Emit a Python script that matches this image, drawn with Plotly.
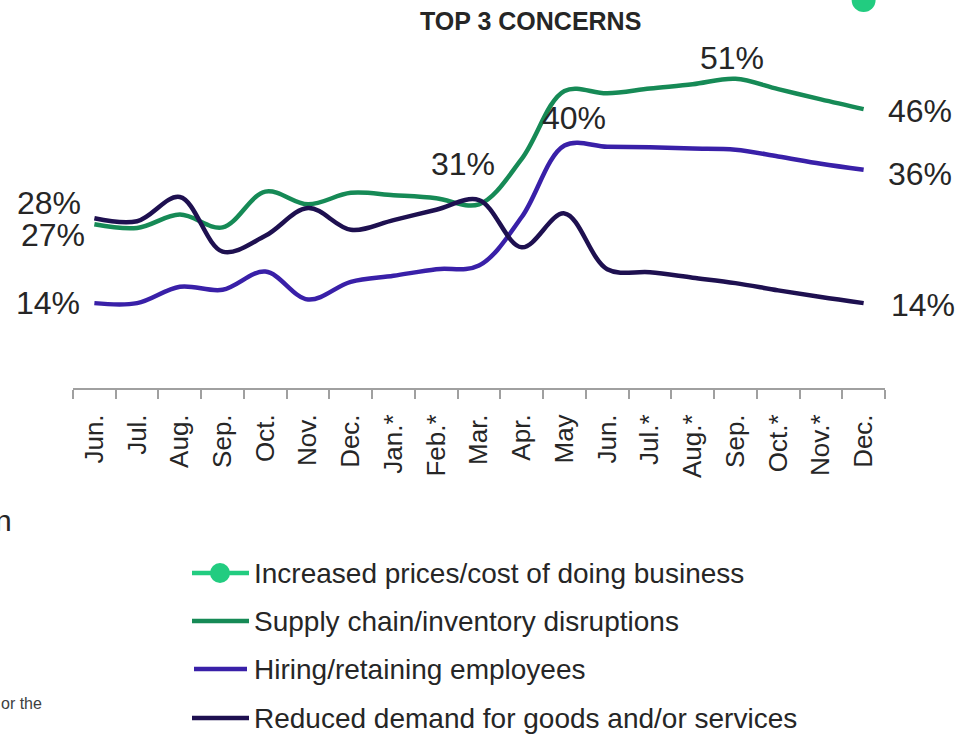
import plotly.graph_objects as go

# ---- data -------------------------------------------------------------
months = ["Jun.", "Jul.", "Aug.", "Sep.", "Oct.", "Nov.", "Dec.", "Jan.*", "Feb.*", "Mar.",
          "Apr.", "May", "Jun.", "Jul.*", "Aug.*", "Sep.", "Oct.*", "Nov.*", "Dec."]

increased_prices = [None, None, None, None, None, None, None, None, None, None,
                    None, None, None, None, None, None, None, None, 64]
supply_chain = [27, 26.4, 28.6, 26.5, 32.4, 30.3, 32.2, 31.8, 31.3, 30.3,
                37.8, 49.0, 48.6, 49.4, 50.1, 51, 49.3, 47.6, 46]
hiring = [14, 14, 16.7, 16.2, 19.2, 14.6, 17.5, 18.5, 19.6, 20.2,
          28.2, 40, 39.8, 39.7, 39.5, 39.3, 38.2, 37.0, 36]
reduced_demand = [28, 27.5, 31.5, 22.5, 25.1, 29.7, 26.1, 27.7, 29.4, 31,
                  23.2, 28.8, 19.6, 19.1, 18.2, 17.3, 16.1, 15.0, 14]

series_names = ["Increased prices/cost of doing business",
                "Supply chain/inventory disruptions",
                "Hiring/retaining employees",
                "Reduced demand for goods and/or services"]
series_colors = ["#22CC80", "#168A56", "#3920A8", "#1E1050"]

# ---- geometry -----------------------------------------------------------
W, H = 974, 734
ML, MR, MT, MB = 73, 89, 0, 346
PW, PH = W - ML - MR, H - MT - MB
Y_TOP = 64
FONT = "Liberation Sans, Arial, sans-serif"
TXT = "#262626"


def px(x):
    return (x - ML) / PW


def py(y):
    return (H - MB - y) / PH


x_idx = list(range(len(months)))

fig = go.Figure()

fig.add_trace(go.Scatter(
    x=x_idx, y=increased_prices, mode="lines+markers", name=series_names[0],
    line=dict(color=series_colors[0], width=4.5),
    marker=dict(color=series_colors[0], size=24), cliponaxis=False,
    showlegend=False))

for name, vals, col in zip(series_names[1:], [supply_chain, hiring, reduced_demand],
                           series_colors[1:]):
    fig.add_trace(go.Scatter(
        x=x_idx, y=vals, mode="lines", name=name,
        line=dict(color=col, width=4.5, shape="spline", smoothing=1.0),
        cliponaxis=False, showlegend=False))

# ---- value labels -------------------------------------------------------
label_specs = [
    (reduced_demand, 0, "right", -11, 15),
    (supply_chain, 0, "right", -7, -11),
    (hiring, 0, "right", -12, 0),
    (supply_chain, 18, "left", 22, -2),
    (hiring, 18, "left", 22, -4),
    (reduced_demand, 18, "left", 25, -2),
    (supply_chain, 15, "center", -3, 21),
    (hiring, 11, "center", 10, 28),
    (reduced_demand, 9, "center", -16, 36),
]
annotations = []
for vals, i, anchor, dx, dy in label_specs:
    annotations.append(dict(
        x=i, y=vals[i], xref="x", yref="y", text=f"{vals[i]:.0f}%",
        showarrow=False, xanchor=anchor, yanchor="middle", xshift=dx, yshift=dy,
        font=dict(family=FONT, size=32, color=TXT)))

# title
annotations.append(dict(
    x=px(530), y=py(21), xref="paper", yref="paper", text="<b>TOP 3 CONCERNS</b>",
    showarrow=False, xanchor="center", yanchor="middle",
    font=dict(family=FONT, size=25, color=TXT)))

# side text fragments
annotations.append(dict(
    x=px(14), y=py(520), xref="paper", yref="paper", text="n", showarrow=False,
    xanchor="right", yanchor="middle", font=dict(family=FONT, size=30, color=TXT)))
annotations.append(dict(
    x=px(-1), y=py(703), xref="paper", yref="paper", text="or the", showarrow=False,
    xanchor="left", yanchor="middle", font=dict(family=FONT, size=16, color="#404040")))

# ---- legend (drawn by hand) ----------------------------------------------
shapes = []
row_y = [573, 621, 669, 718]
for k, (name, col) in enumerate(zip(series_names, series_colors)):
    yy = row_y[k]
    x0, x1 = (192, 249) if k != 2 else (194, 247)
    shapes.append(dict(type="line", xref="paper", yref="paper",
                       x0=px(x0), x1=px(x1), y0=py(yy), y1=py(yy),
                       line=dict(color=col, width=4.5)))
    if k == 0:
        shapes.append(dict(type="circle", xref="paper", yref="paper",
                           x0=px(210), x1=px(230), y0=py(563), y1=py(583),
                           fillcolor=col, line=dict(color=col, width=0)))
    annotations.append(dict(
        x=px(252), y=py(yy), xref="paper", yref="paper", text=name, showarrow=False,
        xanchor="left", yanchor="middle", font=dict(family=FONT, size=28, color=TXT)))

fig.update_layout(
    width=W, height=H,
    margin=dict(l=ML, r=MR, t=MT, b=MB, pad=0),
    paper_bgcolor="white", plot_bgcolor="white",
    showlegend=False,
    annotations=annotations, shapes=shapes,
    xaxis=dict(
        range=[-0.5, len(months) - 0.5], tickmode="array", tickvals=x_idx,
        ticktext=months, tickangle=-90, ticks="", ticklabelstandoff=14,
        tickfont=dict(family=FONT, size=26, color=TXT),
        showline=True, linecolor="#A0A0A0", linewidth=2, showgrid=False,
        zeroline=False, fixedrange=True,
        minor=dict(tickmode="linear", tick0=-0.5, dtick=1, ticks="outside",
                   ticklen=9, tickwidth=2, tickcolor="#A0A0A0", showgrid=False)),
    yaxis=dict(range=[0, Y_TOP], visible=False, showgrid=False, zeroline=False,
               fixedrange=True),
)

fig.write_html("out.html")
